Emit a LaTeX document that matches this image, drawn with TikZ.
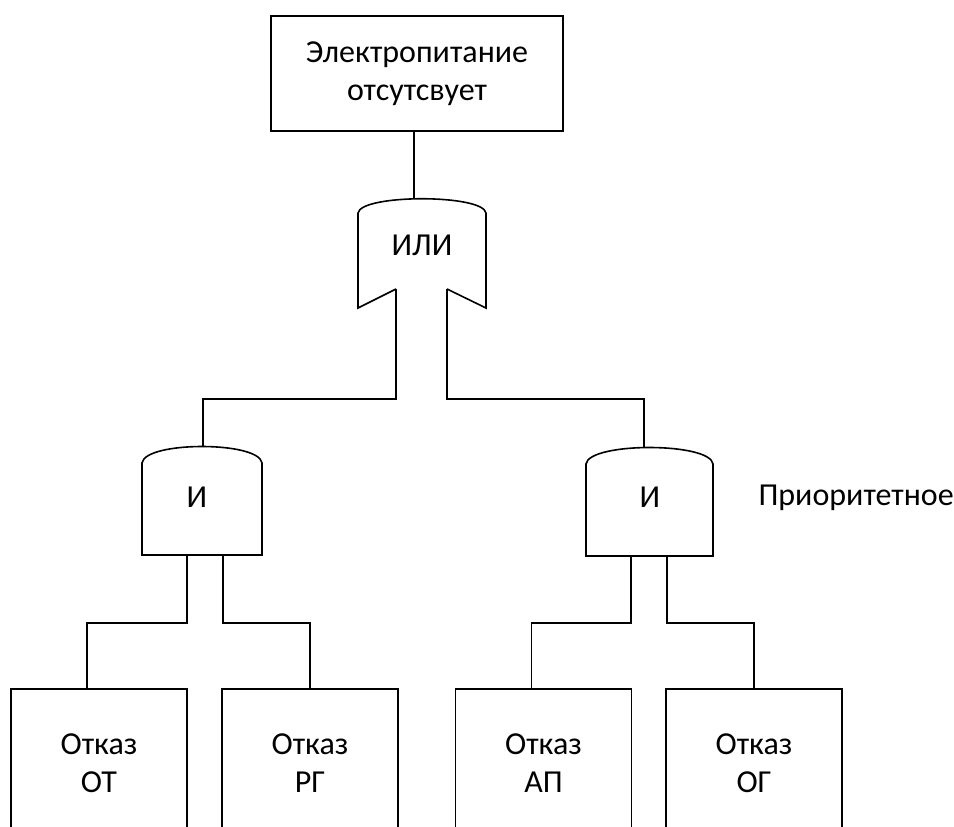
\documentclass[tikz,border=0pt]{standalone}
\usepackage{fontspec}
\setmainfont{Carlito}
\usepackage{tikz}
\usetikzlibrary{positioning,calc}

\tikzset{
  event/.style={draw, line width=1.6pt, align=center, inner sep=0pt,
    minimum width=176pt, minimum height=148pt},
  gatetext/.style={inner sep=0pt},
  wire/.style={line width=1.6pt},
}

\begin{document}
\begin{tikzpicture}[x=1pt, y=-1pt, font=\fontsize{32}{38}\selectfont]
        \clip (0,0) rectangle (954,827);

        % top event
        \node [event, minimum width=292pt, minimum height=115pt] (top) at (417,73.5) {Электропитание\\отсутсвует};

        % OR gate
        \node [gatetext] (or) at (422,245) {ИЛИ};
        \coordinate (orin) at (414,199);
        \coordinate (orl) at (396,289);
        \coordinate (orr) at (447,289);
        \draw [wire] (orl) -- (358,308) -- (358,213) .. controls (361,194) and (483,194) .. (486,213) -- (486,308) -- (orr);
        \draw [wire] (orin |- top.south) -- (orin);

        % AND gates
        \node [gatetext] (andl) at (197,497) {И};
        \coordinate (andlin) at (203,446);
        \coordinate (andlo1) at (187,555);
        \coordinate (andlo2) at (223,555);
        \draw [wire] (142,555) -- (142,463) .. controls (145,441) and (259,441) .. (262,463) -- (262,555) -- cycle;

        \node [gatetext] (andr) at (650,497) {И};
        \coordinate (andrin) at (644,447);
        \coordinate (andro1) at (631,556);
        \coordinate (andro2) at (667,556);
        \draw [wire] (586,556) -- (586,464) .. controls (589,442) and (710,442) .. (713,464) -- (713,556) -- cycle;

        \node [anchor=base west] (prio) at (755,505) {Приоритетное};

        % basic events
        \foreach \name/\x/\lbl in {ot/99/ОТ, rg/310/РГ, ap/543.5/АП, og/754/ОГ} {
            \node [event] (\name) at (\x,763) {Отказ\\\lbl};
        }

        % connections
        \draw [wire] (orl) -- ++(0,110) -| (andlin);
        \draw [wire] (orr) -- ++(0,110) -| (andrin);
        \draw [wire] (andlo1) -- ++(0,68) -| ([xshift=-12pt]ot.north);
        \draw [wire] (andlo2) -- ++(0,68) -| (rg.north);
        \draw [wire] (andro1) -- ++(0,67) -| ([xshift=-12pt]ap.north);
        \draw [wire] (andro2) -- ++(0,67) -| (og.north);
    \end{tikzpicture}
\end{document}
